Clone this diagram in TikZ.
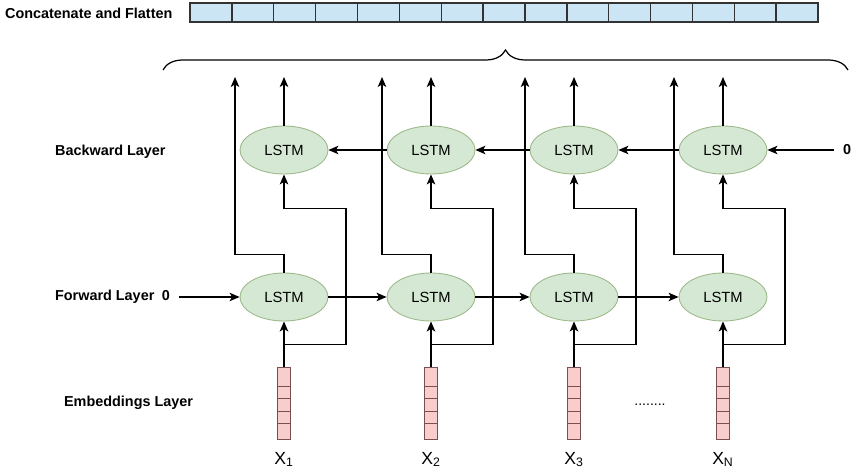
\documentclass[tikz,border=0pt]{standalone}
\usepackage{fontspec}
\setmainfont{Liberation Sans}
\usepackage{xcolor}
\usepackage{tikz}
\usetikzlibrary{arrows.meta,positioning,calc,shapes.geometric,decorations.pathreplacing}
\definecolor{lstmfill}{HTML}{D5E8D4}
\definecolor{lstmline}{HTML}{9DB98A}
\definecolor{embfill}{HTML}{F8CECC}
\definecolor{embline}{HTML}{7A4F4F}
\definecolor{cellfill}{HTML}{CCE5F5}
\definecolor{cellline}{HTML}{333333}

\begin{document}
\begin{tikzpicture}[x=0.02cm, y=-0.02cm,
  lstm/.style={ellipse, draw=lstmline, fill=lstmfill, line width=0.5pt, minimum width=1.76cm, minimum height=0.96cm, inner sep=0pt, font=\fontsize{8.4}{10}\selectfont},
  emb/.style={draw=embline, fill=embfill, line width=0.5pt, minimum width=0.26cm, minimum height=1.44cm, inner sep=0pt},
  embsep/.style={draw=embline, line width=0.5pt},
  cell/.style={draw=cellline, fill=cellfill, line width=0.8pt, minimum width=0.837cm, minimum height=0.38cm, inner sep=0pt},
  layer/.style={anchor=west, inner sep=1pt, font=\fontsize{8.2}{10}\selectfont\bfseries},
  inname/.style={inner sep=1pt, font=\fontsize{10}{12}\selectfont},
  arrow/.style={-{Stealth[length=2mm, width=1.7mm, inset=0.5mm]}, line width=0.7pt},
  feed/.style={arrow, line width=1.1pt}
]
\useasboundingbox (0,0) rectangle (851,475);

\node[layer] (concat) at (3,13) {Concatenate and Flatten};
\foreach \k in {1,...,15} \node[cell] (c\k) at ({190+41.87*(\k-0.5)},12.5) {};

\coordinate (bl) at (163,70);
\coordinate (br) at (848,70);
\draw[decorate, decoration={brace, amplitude=0.4cm}, line width=0.7pt] (bl) -- (br);

\node[layer] (blab) at (53,152) {Backward Layer};
\node[layer] (flab) at (53,297) {Forward Layer\hspace{2pt} 0};
\node[layer] (elab) at (62,403) {Embeddings Layer};
\node[layer, anchor=center] (bzero) at (847,150) {0};

\node[lstm] (b1) at (284,150) {LSTM};
\node[lstm] (b2) at (431,150) {LSTM};
\node[lstm] (b3) at (574,150) {LSTM};
\node[lstm] (b4) at (723,150) {LSTM};
\node[lstm] (f1) at (284,297) {LSTM};
\node[lstm] (f2) at (431,297) {LSTM};
\node[lstm] (f3) at (574,297) {LSTM};
\node[lstm] (f4) at (723,297) {LSTM};

\node[emb] (e1) at (284,403) {};
\node[emb] (e2) at (431,403) {};
\node[emb] (e3) at (574,403) {};
\node[emb] (e4) at (723,403) {};
\foreach \e in {e1,e2,e3,e4} \foreach \d in {20,32,45,57}
  \draw[embsep] ($(\e.north west)+(0,\d)$) -- ($(\e.north east)+(0,\d)$);

\node[inname, below=6pt of e1] (x1) {X\textsubscript{1}};
\node[inname, below=6pt of e2] (x2) {X\textsubscript{2}};
\node[inname, below=6pt of e3] (x3) {X\textsubscript{3}};
\node[inname, below=6pt of e4] (xn) {X\textsubscript{N}};
\node[inname, font=\fontsize{8}{10}\selectfont] (dots) at (650,405) {........};

\draw[arrow, shorten <=4pt] (flab.east) -- (f1.west);
\draw[arrow] (f1.east) -- (f2.west);
\draw[arrow] (f2.east) -- (f3.west);
\draw[arrow] (f3.east) -- (f4.west);
\draw[arrow, shorten <=4pt] (bzero.west) -- (b4.east);
\draw[arrow] (b4.west) -- (b3.east);
\draw[arrow] (b3.west) -- (b2.east);
\draw[arrow] (b2.west) -- (b1.east);

\foreach \i/\x in {1/284,2/431,3/574,4/723} {
  \coordinate (ob\i) at (\x,77);
  \coordinate (of\i) at (\x-49,77);
  \draw[arrow] (b\i.north) -- (ob\i);
  \draw[arrow] (f\i.north) -- ++(0,-18) -| (of\i);
  \draw[feed] (e\i.north) -- (f\i.south);
  \draw[arrow] (e\i.north) ++(0,-22) -- ++(62,0) |- ($(b\i.south)+(0,34)$) -- (b\i.south);
}
\end{tikzpicture}
\end{document}
